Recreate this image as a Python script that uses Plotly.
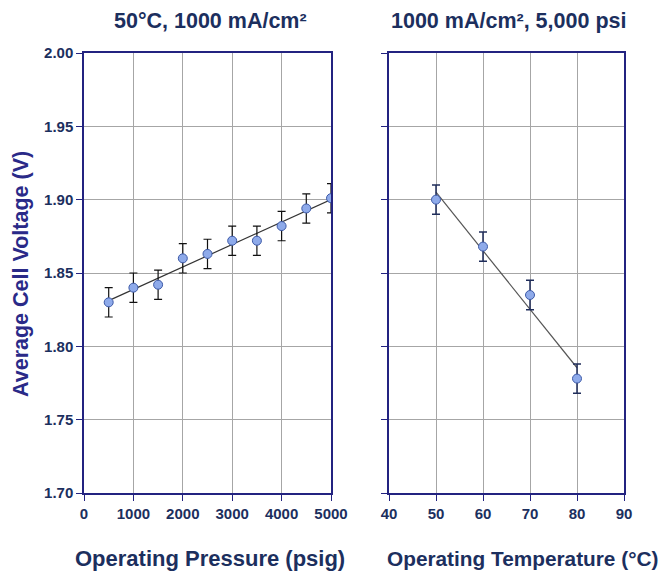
import numpy as np
import plotly.graph_objects as go

# ---- data ----
pressure = [500, 1000, 1500, 2000, 2500, 3000, 3500, 4000, 4500, 5000]
voltage_p = [1.830, 1.840, 1.842, 1.860, 1.863, 1.872, 1.872, 1.882, 1.894, 1.901]
err_p = [0.010] * 10

temperature = [50, 60, 70, 80]
voltage_t = [1.900, 1.868, 1.835, 1.778]
err_t = [0.010] * 4

title_left = "50°C, 1000 mA/cm²"
title_right = "1000 mA/cm², 5,000 psi"
xtitle_left = "Operating Pressure (psig)"
xtitle_right = "Operating Temperature (°C)"
ytitle = "Average Cell Voltage (V)"

# page has an 8px body margin; figure sized to reach the window's right/bottom edges
OFF = 8
W, H = 672 - OFF, 573 - OFF
FONT = "Liberation Sans, Arial, sans-serif"
NAVY = "#1c2f5e"
AXIS = "#232380"
GRID = "#a6a6a6"


def px(x):
    return (x - OFF) / W


def py(y):
    return 1 - (y - OFF) / H


fig = go.Figure()

# trend lines from linear fit
for xs, ys, xa, ya, col in [(pressure, voltage_p, "x", "y", "#333333"),
                            (temperature, voltage_t, "x2", "y2", "#555555")]:
    k, b = np.polyfit(xs, ys, 1)
    xl = [min(xs), max(xs)]
    fig.add_trace(go.Scatter(x=xl, y=[k * v + b for v in xl], mode="lines",
                             line=dict(color=col, width=1.2), xaxis=xa, yaxis=ya,
                             showlegend=False, hoverinfo="skip"))

fig.add_trace(go.Scatter(
    x=pressure, y=voltage_p, mode="markers", xaxis="x", yaxis="y",
    marker=dict(size=9, color="#8eaaea", line=dict(color="#3d5aa8", width=1)),
    error_y=dict(type="data", array=err_p, color="#111111", thickness=1.2, width=4),
    showlegend=False))

fig.add_trace(go.Scatter(
    x=temperature, y=voltage_t, mode="markers", xaxis="x2", yaxis="y2",
    marker=dict(size=9, color="#8eaaea", line=dict(color="#3d5aa8", width=1)),
    error_y=dict(type="data", array=err_t, color="#1f2d5a", thickness=1.5, width=4),
    showlegend=False))

xd1 = [px(84), px(331)]
xd2 = [px(389), px(624)]
yd = [py(493), py(53)]

tickfont = dict(family=FONT, size=15, color=NAVY, weight="bold")
common = dict(showline=True, linecolor=AXIS, linewidth=1.5, mirror=True,
              showgrid=True, gridcolor=GRID, gridwidth=1.2, zeroline=False,
              ticks="outside", ticklen=6, tickcolor=AXIS, tickwidth=1.2,
              tickfont=tickfont, automargin=False)

fig.update_layout(
    width=W, height=H, margin=dict(l=0, r=0, t=0, b=0, autoexpand=False),
    paper_bgcolor="white", plot_bgcolor="white",
    font=dict(family=FONT),
    xaxis=dict(domain=xd1, range=[0, 5000], dtick=1000, anchor="y", **common),
    yaxis=dict(domain=yd, range=[1.70, 2.00], dtick=0.05, tickformat=".2f",
               anchor="x", **common),
    xaxis2=dict(domain=xd2, range=[40, 90], dtick=10, anchor="y2", **common),
    yaxis2=dict(domain=yd, range=[1.70, 2.00], dtick=0.05, showticklabels=False,
                anchor="x2", **common),
)

tfont = dict(family=FONT, size=21.5, color=NAVY)
xfont = dict(family=FONT, size=22, color=NAVY)
annos = [
    dict(text="<b>%s</b>" % title_left, x=px(210), y=py(21), font=tfont),
    dict(text="<b>%s</b>" % title_right, x=px(509), y=py(21), font=tfont),
    dict(text="<b>%s</b>" % xtitle_left, x=px(210), y=py(558), font=xfont),
    dict(text="<b>%s</b>" % xtitle_right, x=px(522), y=py(558),
         font=dict(family=FONT, size=20.8, color=NAVY)),
]
for a in annos:
    fig.add_annotation(xref="paper", yref="paper", showarrow=False,
                       xanchor="center", yanchor="middle", **a)
fig.add_annotation(xref="paper", yref="paper", showarrow=False,
                   text="<b>%s</b>" % ytitle, x=px(21), y=py(274),
                   textangle=-90, xanchor="center", yanchor="middle",
                   font=dict(family=FONT, size=21.5, color="#2a2a88"))

fig.write_html("out.html")
